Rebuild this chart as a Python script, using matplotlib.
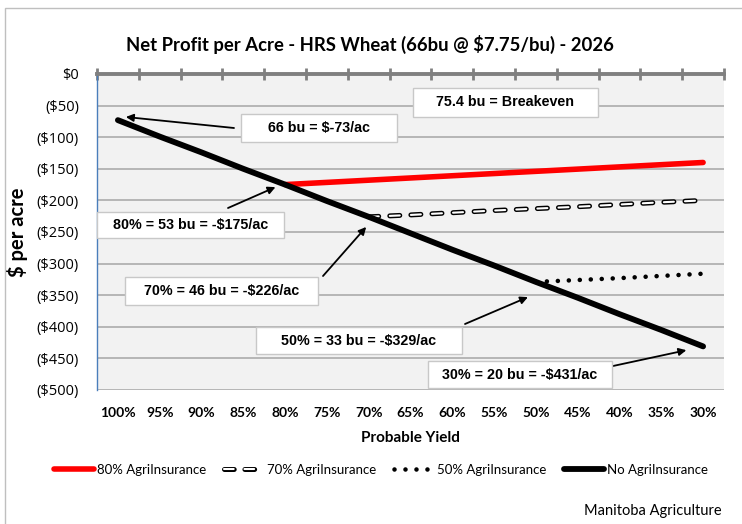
import matplotlib
matplotlib.use("Agg")
import matplotlib.pyplot as plt
from matplotlib.lines import Line2D
from matplotlib.patches import Rectangle
from matplotlib.legend_handler import HandlerTuple

plt.rcParams['lines.scale_dashes'] = False

# ---------------- data ----------------
categories = ["100%", "95%", "90%", "85%", "80%", "75%", "70%", "65%",
              "60%", "55%", "50%", "45%", "40%", "35%", "30%"]
no_insurance = [-73, -99, -124, -150, -175, -201, -226, -252,
                -278, -303, -329, -354, -380, -405, -431]
ins80_cats = ["80%", "75%", "70%", "65%", "60%", "55%", "50%", "45%", "40%", "35%", "30%"]
ins80 = [-175, -171.5, -168, -164.5, -161, -157.5, -154, -150.5, -147, -143.5, -140]
ins70_cats = ["70%", "65%", "60%", "55%", "50%", "45%", "40%", "35%", "30%"]
ins70 = [-226, -223, -219.5, -216, -213, -210, -206.5, -203, -200]
ins50_cats = ["50%", "45%", "40%", "35%", "30%"]
ins50 = [-329, -326, -323, -319.5, -316]
y_ticks = [0, -50, -100, -150, -200, -250, -300, -350, -400, -450, -500]
y_labels = ["$0", "($50)", "($100)", "($150)", "($200)", "($250)", "($300)",
            "($350)", "($400)", "($450)", "($500)"]

series_names = ["80% AgriInsurance", "70% AgriInsurance", "50% AgriInsurance", "No AgriInsurance"]
title = "Net Profit per Acre - HRS Wheat (66bu @ $7.75/bu) - 2026"

annotations = [
    ("75.4 bu = Breakeven", None, None),
    ("66 bu = $-73/ac", "100%", -73),
    ("80% = 53 bu = -$175/ac", "80%", -175),
    ("70% = 46 bu = -$226/ac", "70%", -226),
    ("50% = 33 bu = -$329/ac", "50%", -329),
    ("30% = 20 bu = -$431/ac", "30%", -431),
]

# ---------------- figure ----------------
W, H = 742, 524
fig = plt.figure(figsize=(W / 100, H / 100), dpi=100)
CAL = ["Lato", "DejaVu Sans"]
OPEN = ["Open Sans", "DejaVu Sans"]
ARIAL = ["Liberation Sans", "DejaVu Sans"]

def fx(px):
    return px / W

def fy(py):
    return 1 - py / H

# chart outer border
fig.patches.append(Rectangle((fx(5), fy(530)), fx(760) - fx(5), fy(8) - fy(530),
                             transform=fig.transFigure, fill=False,
                             edgecolor="#bfbfbf", lw=1.0, zorder=0))

ax = fig.add_axes([fx(97), fy(390), fx(724) - fx(97), fy(74) - fy(390)])
ax.set_facecolor("#f2f2f2")

idx = {c: i for i, c in enumerate(categories)}
xs_all = [idx[c] for c in categories]

# grid
for v in y_ticks[1:]:
    ax.axhline(v, color="#a6a6a6", lw=1.1, zorder=1)

DASH70 = (7.2, 8.0)
DOT50 = (0.01, 7.9)

# series
ax.plot([idx[c] for c in ins80_cats], ins80, color="#ff0000", lw=4.0,
        solid_capstyle="round", zorder=4)
x70 = [idx[c] for c in ins70_cats]
ax.plot(x70, ins70, color="black", lw=3.6, dashes=DASH70,
        dash_capstyle="round", zorder=4)
ax.plot(x70, ins70, color="white", lw=1.5, dashes=DASH70,
        dash_capstyle="round", zorder=4.5)
ax.plot([idx[c] for c in ins50_cats], ins50, color="black", lw=3.3,
        dashes=DOT50, dash_capstyle="round", zorder=4)
ax.plot(xs_all, no_insurance, color="black", lw=4.2,
        solid_capstyle="round", zorder=5)

ax.set_xlim(-0.5, len(categories) - 0.5)
ax.set_ylim(-500, 0)

# spines
for s in ["right", "bottom"]:
    ax.spines[s].set_visible(False)
ax.spines["left"].set_color("#4a7ebb")
ax.spines["left"].set_linewidth(1.0)
ax.spines["top"].set_color("#808080")
ax.spines["top"].set_linewidth(2.8)
ax.spines["top"].set_zorder(6)

# ticks
ax.set_xticks(xs_all)
ax.set_xticklabels(categories, fontfamily=CAL, fontweight="bold", fontsize=10)
ax.set_xticks([i - 0.5 for i in range(len(categories) + 1)], minor=True)
ax.tick_params(axis="x", which="major", bottom=True, top=False, length=0, pad=12)
ax.tick_params(axis="x", which="minor", bottom=False, top=True, direction="inout",
               length=8, width=2, color="#808080")
ax.set_yticks(y_ticks)
ax.set_yticklabels(y_labels, fontfamily=OPEN, fontsize=10.5)
ax.tick_params(axis="y", length=0, pad=13)

ax.set_ylabel("$ per acre", fontfamily=CAL, fontweight="bold", fontsize=14.5, labelpad=6)
ax.set_xlabel("Probable Yield", fontfamily=CAL, fontweight="bold", fontsize=11, labelpad=9)

fig.text(fx(370), fy(44), title, ha="center", va="center",
         fontfamily=CAL, fontweight="bold", fontsize=13.3)

# annotation boxes (pixel rectangles) and arrows
boxes = [
    (413, 88, 598, 117),
    (241, 114, 397, 142),
    (97, 212, 284, 238),
    (125, 277, 318, 305),
    (256, 327, 462, 354),
    (428, 361, 612, 388),
]
arrow_starts = [None, (234, 128), (228, 208), (323, 276), (465, 324), (613, 366)]
arrow_offsets = [None, (0.19, 5), (-0.23, -4), (-0.06, -16), (-0.19, -24), (-0.4, -6)]

for (txt, cat, val), (x0, y0, x1, y1), st, off in zip(annotations, boxes, arrow_starts, arrow_offsets):
    fig.patches.append(Rectangle((fx(x0), fy(y1)), fx(x1) - fx(x0), fy(y0) - fy(y1),
                                 transform=fig.transFigure, facecolor="white",
                                 edgecolor="#c8c8c8", lw=1.0, zorder=7))
    fig.text(fx((x0 + x1) / 2), fy((y0 + y1) / 2), txt, ha="center", va="center",
             fontfamily=ARIAL, fontweight="bold", fontsize=10.3, zorder=8)
    if st is not None:
        ax.annotate("", xy=(idx[cat] + off[0], val + off[1]), xycoords="data",
                    xytext=(st[0], H - st[1]), textcoords="figure pixels",
                    arrowprops=dict(arrowstyle="-|>", color="black", lw=1.3,
                                    mutation_scale=11, shrinkA=0, shrinkB=0),
                    zorder=8, annotation_clip=False)

# legend
LEG_DASH = (7.0, 7.7)
h80 = Line2D([], [], color="#ff0000", lw=4.0, solid_capstyle="round")
h70a = Line2D([], [], color="black", lw=3.6, dashes=LEG_DASH, dash_capstyle="round")
h70b = Line2D([], [], color="white", lw=1.5, dashes=LEG_DASH, dash_capstyle="round")
h50 = Line2D([], [], color="black", lw=3.3, dashes=DOT50, dash_capstyle="round")
hno = Line2D([], [], color="black", lw=4.2, solid_capstyle="round")
fig.legend([h80, (h70a, h70b), h50, hno], series_names,
           handler_map={tuple: HandlerTuple(ndivide=1, pad=0)},
           loc="center", bbox_to_anchor=(fx(381), fy(470)), ncol=4, frameon=False,
           prop={"family": CAL, "size": 9.5}, handlelength=3.0, handletextpad=0.2,
           columnspacing=1.4)

fig.text(fx(722), fy(511), "Manitoba Agriculture", ha="right", va="center",
         fontfamily=CAL, fontsize=10.5)

fig.savefig("out.png", dpi=100)
